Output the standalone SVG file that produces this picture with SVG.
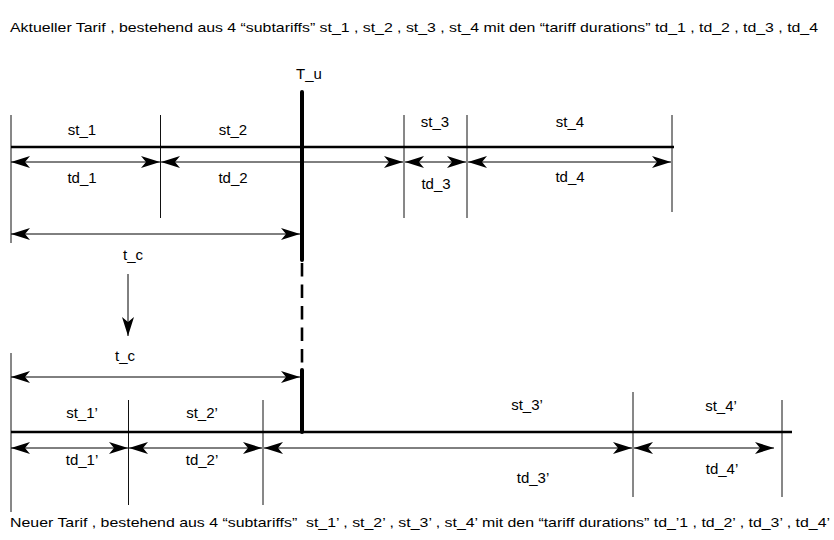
<svg xmlns="http://www.w3.org/2000/svg" width="834" height="540" viewBox="0 0 834 540">
  <style>
    text { font-family: "Liberation Sans", Arial, sans-serif; font-size: 15px; fill: #000; text-anchor: middle; }
    text.hdr { font-size: 13px; text-anchor: start; }
    .tick { stroke: #111; stroke-width: 1; fill: none; }
    .axis { stroke: #000; stroke-width: 2.6; fill: none; }
    .dim { stroke: #000; stroke-width: 1; fill: none; marker-start: url(#ah); marker-end: url(#ah); }
    .one { stroke: #000; stroke-width: 1; fill: none; marker-end: url(#ah); }
    .tu { stroke: #000; stroke-width: 4; fill: none; stroke-linecap: round; }
    .tud { stroke: #000; stroke-width: 2.6; fill: none; stroke-dasharray: 13.5 8; }
  </style>
  <defs>
    <marker id="ah" markerUnits="userSpaceOnUse" markerWidth="22" markerHeight="14" viewBox="0 -7 22 14" refX="19" refY="0" orient="auto-start-reverse">
      <path d="M19,0 L0,-6 L5,0 L0,6 Z" fill="#000"/>
    </marker>
  </defs>

  <g id="header-top">
    <text class="hdr" x="10" y="32" textLength="808" lengthAdjust="spacingAndGlyphs">Aktueller Tarif , bestehend aus 4 “subtariffs” st_1 , st_2 , st_3 , st_4 mit den “tariff durations” td_1 , td_2 , td_3 , td_4</text>
  </g>

  <g id="current-tariff">
    <g id="ticks-top">
      <line class="tick" x1="11" y1="115" x2="11" y2="243"/>
      <line class="tick" x1="160.5" y1="115" x2="160.5" y2="218"/>
      <line class="tick" x1="404" y1="115" x2="404" y2="218"/>
      <line class="tick" x1="467" y1="115" x2="467" y2="218"/>
      <line class="tick" x1="672" y1="115" x2="672" y2="212"/>
    </g>
    <line class="axis" x1="11" y1="147" x2="674" y2="147"/>
    <g id="st_1"><text x="82" y="135">st_1</text></g>
    <g id="st_2"><text x="233" y="135">st_2</text></g>
    <g id="st_3"><text x="435" y="127">st_3</text></g>
    <g id="st_4"><text x="570" y="127">st_4</text></g>
    <g id="td_1"><text x="82" y="183">td_1</text></g>
    <g id="td_2"><text x="233" y="183">td_2</text></g>
    <g id="td_3"><text x="436" y="189">td_3</text></g>
    <g id="td_4"><text x="570" y="182">td_4</text></g>
    <g id="tc-top"><text x="133" y="260">t_c</text></g>
  </g>

  <g id="T_u">
    <text x="296" y="79" style="text-anchor:start">T_u</text>
    <line class="tu" x1="302" y1="92" x2="302" y2="260"/>
    <line class="tud" x1="302" y1="263" x2="302" y2="368"/>
    <line class="tu" x1="302" y1="370" x2="302" y2="432"/>
  </g>

  <g id="new-tariff">
    <g id="ticks-bottom">
      <line class="tick" x1="11" y1="353" x2="11" y2="512"/>
      <line class="tick" x1="128.5" y1="400" x2="128.5" y2="505"/>
      <line class="tick" x1="263" y1="400" x2="263" y2="505"/>
      <line class="tick" x1="633" y1="392" x2="633" y2="497"/>
      <line class="tick" x1="782" y1="400" x2="782" y2="497"/>
    </g>
    <line class="axis" x1="11" y1="432" x2="792" y2="432"/>
    <g id="tc-bottom"><text x="125" y="361">t_c</text></g>
    <g id="st_1p"><text x="82" y="418">st_1’</text></g>
    <g id="st_2p"><text x="202" y="418">st_2’</text></g>
    <g id="st_3p"><text x="527" y="410">st_3’</text></g>
    <g id="st_4p"><text x="721" y="411">st_4’</text></g>
    <g id="td_1p"><text x="82" y="465">td_1’</text></g>
    <g id="td_2p"><text x="202" y="465">td_2’</text></g>
    <g id="td_3p"><text x="533" y="483">td_3’</text></g>
    <g id="td_4p"><text x="722" y="474">td_4’</text></g>
  </g>

  <g id="connectors">
    <line class="dim" x1="11" y1="162" x2="160" y2="162"/>
    <line class="dim" x1="161" y1="162" x2="403" y2="162"/>
    <line class="dim" x1="405" y1="162" x2="466" y2="162"/>
    <line class="dim" x1="468" y1="162" x2="671" y2="162"/>
    <line class="dim" x1="11" y1="234" x2="300" y2="234"/>
    <line class="one" x1="128" y1="274" x2="128" y2="336"/>
    <line class="dim" x1="11" y1="377" x2="300" y2="377"/>
    <line class="dim" x1="11" y1="448" x2="128" y2="448"/>
    <line class="dim" x1="129" y1="448" x2="262" y2="448"/>
    <line class="dim" x1="264" y1="448" x2="632" y2="448"/>
    <line class="dim" x1="634" y1="448" x2="774" y2="448"/>
  </g>

  <g id="header-bottom">
    <text class="hdr" x="10" y="527" textLength="820" lengthAdjust="spacingAndGlyphs" xml:space="preserve">Neuer Tarif , bestehend aus 4 “subtariffs”  st_1’ , st_2’ , st_3’ , st_4’ mit den “tariff durations” td_’1 , td_2’ , td_3’ , td_4’</text>
  </g>
</svg>
